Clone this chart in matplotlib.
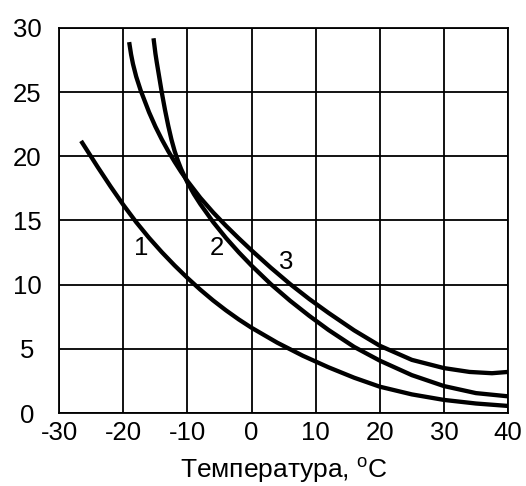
import matplotlib
matplotlib.use("Agg")
import matplotlib.pyplot as plt

plt.rcParams["font.family"] = ["Liberation Sans", "DejaVu Sans"]
plt.rcParams["mathtext.fontset"] = "custom"
plt.rcParams["mathtext.rm"] = "Liberation Sans"
plt.rcParams["axes.unicode_minus"] = False

# curve 1
t1 = [-26.6, -24, -22, -20, -18, -16, -14, -12, -10, -8, -6, -4, -2, 0,
      4, 8, 12, 16, 20, 25, 30, 35, 40]
v1 = [21.2, 19.16, 17.65, 16.21, 14.87, 13.65, 12.53, 11.49, 10.52, 9.61,
      8.77, 8.0, 7.29, 6.64, 5.48, 4.46, 3.56, 2.75, 2.05, 1.45, 1.02, 0.74,
      0.55]

# curve 2
t2 = [-15.3, -15.0, -14.8, -14, -13.5, -13, -12.5, -12, -11.5, -11, -10, -9,
      -8, -6, -4, -2, 0, 3, 6, 9, 12, 16, 20, 25, 30, 35, 40]
v2 = [29.2, 28.0, 27.35, 24.95, 23.6, 22.38, 21.3, 20.4, 19.66, 19.02, 17.95,
      17.06, 16.28, 14.88, 13.64, 12.52, 11.48, 10.04, 8.75, 7.57, 6.47, 5.15,
      4.08, 2.95, 2.1, 1.55, 1.3]

# curve 3
t3 = [-19.1, -18.8, -18.5, -18, -17.3, -16, -15, -14, -13, -12, -11, -10, -8,
      -6, -4, -2, 0, 3, 6, 9, 12, 16, 20, 25, 30, 34, 37.5, 40]
v3 = [28.9, 27.94, 27.19, 26.21, 25.13, 23.44, 22.31, 21.31, 20.4, 19.57,
      18.79, 18.07, 16.77, 15.63, 14.59, 13.61, 12.67, 11.32, 10.05, 8.88,
      7.80, 6.44, 5.24, 4.14, 3.5, 3.2, 3.1, 3.2]

labels = ["1", "2", "3"]
label_pos = [(-17.15, 12.85), (-5.45, 12.85), (5.45, 11.8)]

xticks = [-30, -20, -10, 0, 10, 20, 30, 40]
yticks = [0, 5, 10, 15, 20, 25, 30]

fig = plt.figure(figsize=(5.26, 4.86), dpi=100)
ax = fig.add_axes([0.1127, 0.1502, 0.8531, 0.7922])

for t, v in [(t1, v1), (t2, v2), (t3, v3)]:
    ax.plot(t, v, color="black", lw=3.1, solid_capstyle="butt",
            solid_joinstyle="round", zorder=3)

for s, (x, y) in zip(labels, label_pos):
    ax.text(x, y, s, fontsize=18.5, ha="center", va="center", zorder=4)

ax.set_xlim(-30, 40)
ax.set_ylim(0, 30)
ax.set_xticks(xticks)
ax.set_yticks(yticks)
ax.grid(True, color="black", lw=1.3)
ax.set_axisbelow(True)
for sp in ax.spines.values():
    sp.set_linewidth(1.3)

ax.tick_params(axis="both", length=0, labelsize=18.5)
ax.tick_params(axis="x", pad=6)
ax.tick_params(axis="y", pad=23)
for lab in ax.get_yticklabels():
    lab.set_horizontalalignment("center")

ax.set_xlabel("Температура, $^{\\mathrm{o}}$C", fontsize=19, labelpad=7)

fig.savefig("out.png", dpi=100)
